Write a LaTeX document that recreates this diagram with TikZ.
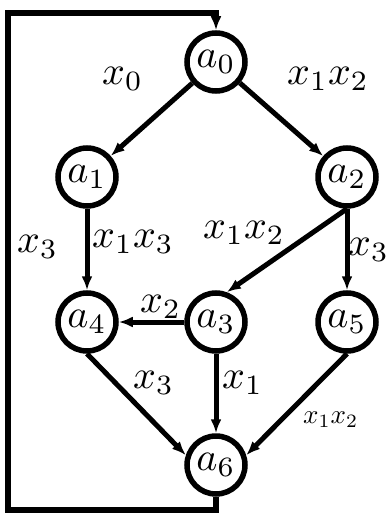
\documentclass[tikz,border=0pt]{standalone}
\usepackage{graphicx}
\usetikzlibrary{arrows.meta}
\newcommand{\mylab}[1]{\scalebox{4}{$#1$}}
\newcommand{\mysmall}[1]{\scalebox{2.7}{$#1$}}
\begin{document}
\begin{tikzpicture}[x=1pt,y=-1pt,
  state/.style={circle,draw,line width=5.5pt,minimum size=58pt,inner sep=0pt},
  lbl/.style={anchor=base west,inner sep=0pt},
  edge/.style={line width=5pt,-{Latex[length=14pt,width=11pt]}},
  loopline/.style={line width=5.5pt}]
\useasboundingbox (0,0) rectangle (387,516);
\node[state] (a0) at (216,62) {\mylab{a_0}};
\node[state] (a1) at (87,177) {\mylab{a_1}};
\node[state] (a2) at (347,177) {\mylab{a_2}};
\node[state] (a4) at (87,322) {\mylab{a_4}};
\node[state] (a3) at (216,322) {\mylab{a_3}};
\node[state] (a5) at (347,322) {\mylab{a_5}};
\node[state] (a6) at (216,465) {\mylab{a_6}};
\coordinate (lb) at (216,510);
\coordinate (lt) at (8,13);
\coordinate (lr) at (216,13);
\draw[edge] (a0) -- (a1);
\draw[edge] (a0) -- (a2);
\draw[edge] (a1) -- (a4);
\draw[edge] (a2.south) -- (a3.70);
\draw[edge] (a2) -- (a5);
\draw[edge] (a3) -- (a4);
\draw[edge] (a3) -- (a6);
\draw[edge] (a4.south) -- (a6.162);
\draw[edge] (a5.south) -- (a6.18);
\draw[loopline] (a6.south) -- (lb) -| (lt) -- ([xshift=2.5pt]lr);
\draw[edge] (lr) -- (a0.north);
\node[lbl] (l0) at (102,85) {\mylab{x_0}};
\node[lbl] (l1) at (287,85) {\mylab{x_1x_2}};
\node[lbl] (l2) at (17,252) {\mylab{x_3}};
\node[lbl] (l3) at (92,247) {\mylab{x_1x_3}};
\node[lbl] (l4) at (203,238) {\mylab{x_1x_2}};
\node[lbl] (l5) at (348,255) {\mylab{x_3}};
\node[lbl] (l6) at (140,312) {\mylab{x_2}};
\node[lbl] (l7) at (133,388) {\mylab{x_3}};
\node[lbl] (l8) at (222,388) {\mylab{x_1}};
\node[lbl] (l9) at (303,423) {\mysmall{x_1x_2}};
\end{tikzpicture}
\end{document}
